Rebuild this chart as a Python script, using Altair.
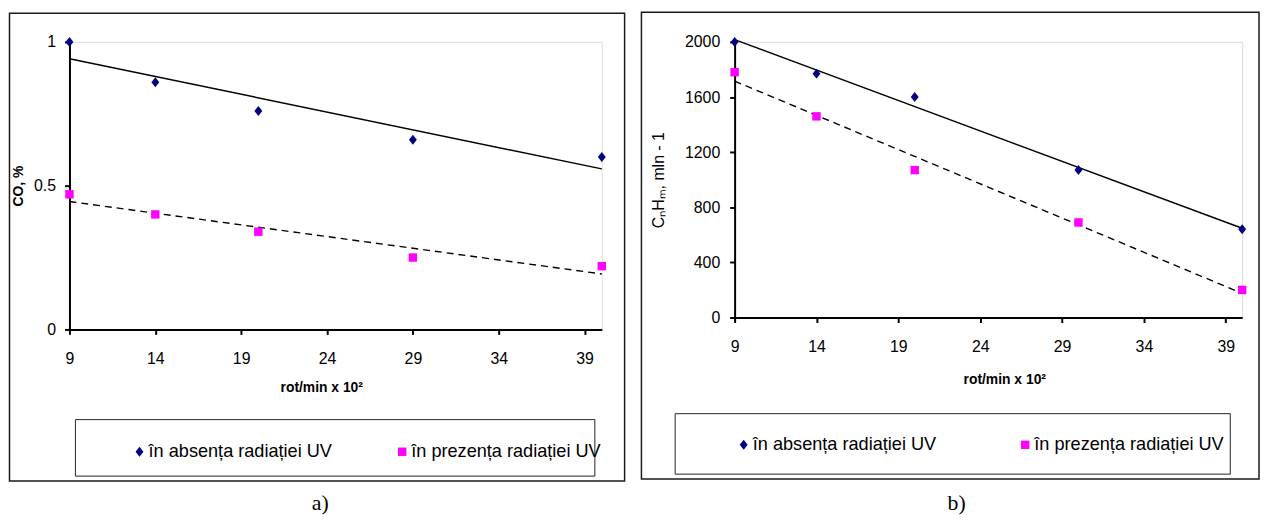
import altair as alt
import pandas as pd

# ---- data ----
series = ["în absența radiației UV", "în prezența radiației UV"]
rot_co = [9, 14, 20, 29, 40]
co_absent = [1.00, 0.86, 0.76, 0.66, 0.60]
co_present = [0.47, 0.40, 0.34, 0.25, 0.22]
rot_hc = [9, 14, 20, 30, 40]
hc_absent = [2000, 1770, 1600, 1070, 640]
hc_present = [1780, 1460, 1070, 690, 200]
x_ticks = [9, 14, 19, 24, 29, 34, 39]
co_ticks = [0, 0.5, 1]
hc_ticks = [0, 400, 800, 1200, 1600, 2000]
x_title = "rot/min x 10²"
co_title = "CO, %"
hc_title = "CₙHₘ, mln - 1"
captions = ["a)", "b)"]

SANS = "Liberation Sans, Arial, sans-serif"
SERIF = "Liberation Serif, Times New Roman, serif"
DIAMOND = "M0,-1.18L0.94,0L0,1.18L-0.94,0Z"
COLORS = ["#000080", "#ff00ff"]


def panel(xs, absent, present, W, H, yticks, ydom, yfmt, ytitle, ybold, yfs, ytp, ylp,
          xtp, xtitlex, lx, ly, colpad, box, frame, cap, capxy):
    df = pd.DataFrame({
        "rot": list(xs) + list(xs),
        "val": list(absent) + list(present),
        "serie": [series[0]] * len(xs) + [series[1]] * len(xs),
    })
    x = alt.X("rot:Q", scale=alt.Scale(domain=[9, 40], nice=False, zero=False),
              axis=alt.Axis(values=x_ticks, title=x_title, grid=False,
                            labelFont=SANS, labelFontSize=16, labelColor="black",
                            labelPadding=16, labelFlush=False, labelOverlap=False,
                            tickSize=5, tickWidth=2, tickColor="black",
                            domainColor="black", domainWidth=2,
                            titleFont=SANS, titleFontSize=14, titleFontWeight="bold",
                            titleColor="black", titlePadding=xtp, titleX=xtitlex))
    y = alt.Y("val:Q", scale=alt.Scale(domain=ydom, nice=False, zero=True),
              axis=alt.Axis(values=yticks, title=ytitle, grid=False, format=yfmt,
                            labelFont=SANS, labelFontSize=16, labelColor="black",
                            labelPadding=ylp, labelOverlap=False,
                            tickSize=5, tickWidth=2, tickColor="black",
                            domainColor="black", domainWidth=2,
                            titleFont=SANS, titleFontSize=yfs,
                            titleFontWeight="bold" if ybold else "normal",
                            titleColor="black", titlePadding=ytp))
    leg = alt.Legend(orient="none", legendX=lx, legendY=ly, direction="horizontal",
                     title=None, labelFont=SANS, labelFontSize=18.3, labelColor="black",
                     labelOffset=0, symbolOffset=11, labelLimit=400, symbolSize=72,
                     symbolStrokeWidth=0, columnPadding=colpad)
    one = pd.DataFrame({"k": [0]})
    frame_l = alt.Chart(one).mark_rect(fill="white", fillOpacity=0, stroke="#1a1a1a",
                                       strokeWidth=1.5).encode(
        x=alt.value(frame[0]), x2=alt.value(frame[1]),
        y=alt.value(frame[2]), y2=alt.value(frame[3]))
    box_l = alt.Chart(one).mark_rect(fill="white", fillOpacity=0, stroke="#222222",
                                     strokeWidth=1).encode(
        x=alt.value(box[0]), x2=alt.value(box[1]),
        y=alt.value(box[2]), y2=alt.value(box[3]))
    base = alt.Chart(df)
    trend_a = base.transform_filter(alt.datum.serie == series[0]).transform_regression(
        "rot", "val").mark_line(color="black", strokeWidth=1.5).encode(x=x, y=y)
    trend_p = base.transform_filter(alt.datum.serie == series[1]).transform_regression(
        "rot", "val").mark_line(color="black", strokeWidth=1.4, strokeDash=[7, 5]).encode(x=x, y=y)
    points = base.mark_point(filled=True, opacity=1, size=72).encode(
        x=x, y=y,
        color=alt.Color("serie:N", scale=alt.Scale(domain=series, range=COLORS), legend=leg),
        shape=alt.Shape("serie:N", scale=alt.Scale(domain=series, range=[DIAMOND, "square"]),
                        legend=leg))
    cap_l = alt.Chart(pd.DataFrame({"c": [cap]})).mark_text(
        font=SERIF, fontSize=22, color="black", baseline="alphabetic", align="center"
    ).encode(x=alt.value(capxy[0]), y=alt.value(capxy[1]), text="c:N")
    return alt.layer(frame_l, box_l, trend_a, trend_p, points, cap_l).properties(width=W, height=H)


left = panel(rot_co, co_absent, co_present, 537, 290, co_ticks, [0, 1], "~g", co_title, True, 14,
             8, 9, 15, 254, 50.5, 404, 50,
             (6, 530, 381, 438), (-60.5, 560, -29, 443), captions[0], (253, 472))
right = panel(rot_hc, hc_absent, hc_present, 512, 278, hc_ticks, [0, 2000], "d", hc_title, False, 16,
              18, 10, 19, 272, -11, 397, 69,
              (-60, 500, 375, 436), (-94, 529, -30, 441), captions[1], (224, 472))

chart = alt.hconcat(left, right, spacing=13).resolve_scale(
    color="independent", shape="independent"
).properties(
    padding={"left": 0, "top": 0, "right": 0, "bottom": 0}
).configure_view(stroke="#808080", strokeWidth=1).configure(font=SANS)

chart.save("out.html", embed_options={"renderer": "svg", "actions": False})
